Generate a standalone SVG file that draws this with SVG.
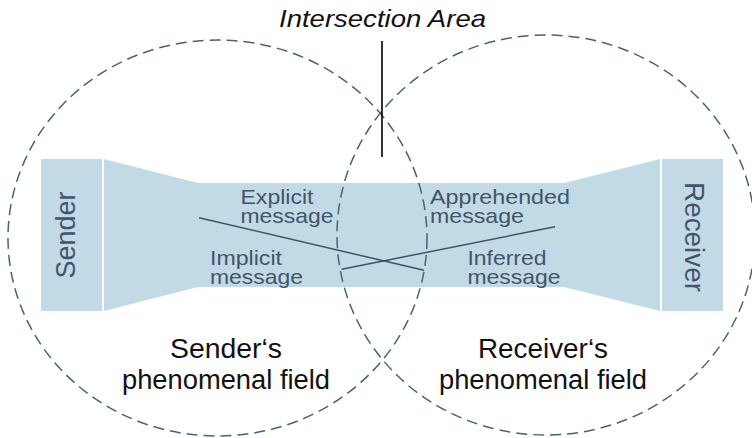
<svg xmlns="http://www.w3.org/2000/svg" width="752" height="438" viewBox="0 0 752 438">
<style>
  .fill { fill: #c2dae5; }
  .field { fill: none; stroke: #4a6179; stroke-width: 1.5; stroke-dasharray: 11 6; }
  .cross { fill: none; stroke: #3e5469; stroke-width: 1.5; }
  .pointer { fill: none; stroke: #000; stroke-width: 1.6; }
  .lbl { font-family: "Liberation Sans", Arial, sans-serif; fill: #3f566c; }
  .big { font-family: "Liberation Sans", Arial, sans-serif; fill: #111; font-size: 27px; text-anchor: middle; }
</style>
<rect width="752" height="438" fill="#fff"/>

<g id="channel">
  <polygon class="fill" points="104,159 198,183 564,183 660,159 660,311 564,287 198,287 104,311"/>
</g>
<g id="sender">
  <rect class="fill" x="41" y="159" width="61" height="152"/>
  <text class="lbl" font-size="27" text-anchor="middle" textLength="87" lengthAdjust="spacingAndGlyphs" transform="translate(75,235) rotate(-90)">Sender</text>
</g>
<g id="receiver">
  <rect class="fill" x="662" y="159" width="61" height="152"/>
  <text class="lbl" font-size="27" text-anchor="middle" textLength="110" lengthAdjust="spacingAndGlyphs" transform="translate(685,237) rotate(90)">Receiver</text>
</g>

<g id="message-labels">
  <text class="lbl" font-size="21" x="240.5" y="203.5" textLength="73" lengthAdjust="spacingAndGlyphs">Explicit</text>
  <text class="lbl" font-size="21" x="240.5" y="222.5" textLength="93" lengthAdjust="spacingAndGlyphs">message</text>
  <text class="lbl" font-size="21" x="210" y="265" textLength="72" lengthAdjust="spacingAndGlyphs">Implicit</text>
  <text class="lbl" font-size="21" x="210" y="283.5" textLength="93" lengthAdjust="spacingAndGlyphs">message</text>
  <text class="lbl" font-size="21" x="430" y="203.5" textLength="140" lengthAdjust="spacingAndGlyphs">Apprehended</text>
  <text class="lbl" font-size="21" x="430" y="222.5" textLength="94" lengthAdjust="spacingAndGlyphs">message</text>
  <text class="lbl" font-size="21" x="467.5" y="264.5" textLength="79" lengthAdjust="spacingAndGlyphs">Inferred</text>
  <text class="lbl" font-size="21" x="467.5" y="283.5" textLength="93" lengthAdjust="spacingAndGlyphs">message</text>
</g>

<g id="sender-field">
  <ellipse class="field" cx="217.5" cy="238" rx="209.5" ry="198"/>
  <text class="big" x="226" y="358" textLength="112" lengthAdjust="spacingAndGlyphs">Sender‘s</text>
  <text class="big" x="226" y="389" textLength="208" lengthAdjust="spacingAndGlyphs">phenomenal field</text>
</g>
<g id="receiver-field">
  <ellipse class="field" cx="546" cy="235" rx="209" ry="200"/>
  <text class="big" x="543" y="358" textLength="130" lengthAdjust="spacingAndGlyphs">Receiver‘s</text>
  <text class="big" x="543" y="389" textLength="208" lengthAdjust="spacingAndGlyphs">phenomenal field</text>
</g>

<g id="intersection-label">
  <text class="big" x="382.5" y="27" font-size="24" font-style="italic" textLength="207" lengthAdjust="spacingAndGlyphs" style="font-size:24px">Intersection Area</text>
</g>

<g id="connectors">
  <line class="pointer" x1="382" y1="41" x2="382" y2="157"/>
  <line class="cross" x1="199" y1="217.7" x2="424" y2="270.3"/>
  <line class="cross" x1="341.7" y1="269.3" x2="555" y2="226.7"/>
</g>
</svg>
